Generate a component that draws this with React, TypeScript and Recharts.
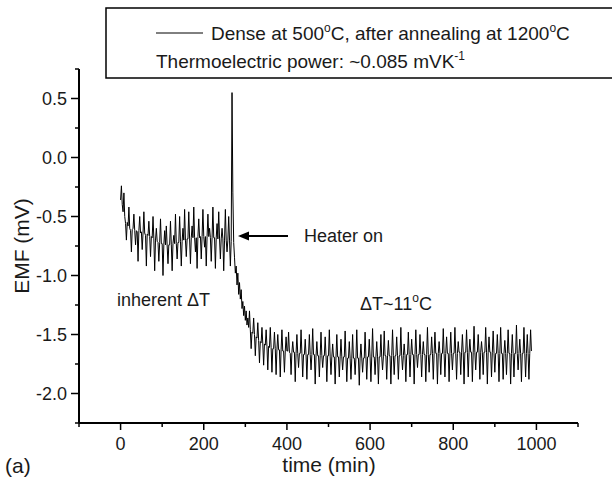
import React from "react";
import { LineChart, Line, XAxis, YAxis } from "recharts";

// sampling grid of the logger trace (minutes)
const START_MIN = 0;
const STEP_MIN = 2;

// EMF (mV), one value every 2 min
const emfBeforeHeater = [
  -0.36, -0.24, -0.4, -0.46, -0.3, -0.5, -0.56, -0.7, -0.55, -0.58,
  -0.42, -0.6, -0.62, -0.8, -0.61, -0.6, -0.48, -0.62, -0.74, -0.62,
  -0.63, -0.88, -0.62, -0.5, -0.64, -0.63, -0.78, -0.64, -0.46, -0.64,
  -0.66, -0.92, -0.65, -0.66, -0.54, -0.67, -0.84, -0.67, -0.68, -0.5,
  -0.69, -0.96, -0.7, -0.6, -0.71, -0.72, -0.88, -0.72, -0.52, -0.73,
  -0.73, -1.0, -0.74, -0.62, -0.74, -0.58, -0.75, -0.9, -0.74, -0.74,
  -0.54, -0.74, -0.96, -0.73, -0.66, -0.73, -0.48, -0.73, -0.86, -0.72,
  -0.72, -0.5, -0.71, -0.92, -0.71, -0.6, -0.7, -0.44, -0.7, -0.84,
  -0.69, -0.69, -0.46, -0.69, -0.9, -0.68, -0.58, -0.68, -0.42, -0.68,
  -0.8, -0.68, -0.94, -0.67, -0.52, -0.68, -0.67, -0.86, -0.67, -0.44,
  -0.67, -0.76, -0.67, -0.92, -0.67, -0.48, -0.67, -0.6, -0.68, -0.88,
  -0.68, -0.42, -0.68, -0.68, -0.94, -0.68, -0.56, -0.69, -0.46, -0.69,
  -0.86, -0.69, -0.6, -0.69, -0.96, -0.7, -0.44, -0.7, -0.8, -0.7,
  -0.5, -0.7, -0.92, -0.71,
];

const emfHeaterOn = [
  0.55, -0.3, -0.72, -0.85, -0.98, -0.92, -1.08, -0.98, -1.16, -1.06,
  -1.2, -1.12, -1.28, -1.22, -1.34, -1.26, -1.38, -1.3, -1.42, -1.36,
  -1.44, -1.3, -1.46, -1.62, -1.48, -1.49, -1.36, -1.5, -1.68, -1.52,
  -1.53, -1.4, -1.55, -1.74, -1.56, -1.57, -1.44, -1.58, -1.76, -1.58,
  -1.59, -1.46, -1.6, -1.8, -1.6, -1.61, -1.44, -1.61, -1.82, -1.62,
  -1.62, -1.48, -1.62, -1.84, -1.63, -1.5, -1.63, -1.63, -1.86, -1.63,
  -1.46, -1.64, -1.64, -1.82, -1.64, -1.52, -1.64,
];

const emfSteady = [
  -1.64, -1.48, -1.65, -1.66, -1.84, -1.65, -1.56, -1.65, -1.65, -1.9,
  -1.66, -1.5, -1.66, -1.78, -1.66, -1.66, -1.46, -1.66, -1.86, -1.67,
  -1.67, -1.54, -1.67, -1.88, -1.67, -1.67, -1.5, -1.67, -1.8, -1.67,
  -1.45, -1.67, -1.67, -1.92, -1.68, -1.56, -1.68, -1.68, -1.86, -1.68,
  -1.48, -1.68, -1.78, -1.68, -1.68, -1.52, -1.68, -1.9, -1.68, -1.68,
  -1.46, -1.69, -1.84, -1.69, -1.58, -1.69, -1.69, -1.92, -1.69, -1.5,
  -1.69, -1.69, -1.86, -1.69, -1.54, -1.69, -1.8, -1.69, -1.69, -1.47,
  -1.69, -1.9, -1.7, -1.7, -1.56, -1.7, -1.88, -1.7, -1.5, -1.7,
  -1.7, -1.84, -1.7, -1.46, -1.7, -1.7, -1.93, -1.7, -1.58, -1.7,
  -1.82, -1.7, -1.7, -1.48, -1.69, -1.88, -1.69, -1.69, -1.54, -1.69,
  -1.9, -1.69, -1.45, -1.69, -1.69, -1.84, -1.69, -1.56, -1.69, -1.92,
  -1.69, -1.69, -1.5, -1.69, -1.8, -1.69, -1.47, -1.68, -1.68, -1.88,
  -1.68, -1.55, -1.68, -1.68, -1.92, -1.68, -1.46, -1.68, -1.84, -1.68,
  -1.68, -1.52, -1.68, -1.88, -1.68, -1.68, -1.44, -1.68, -1.8, -1.68,
  -1.58, -1.68, -1.9, -1.67, -1.67, -1.48, -1.67, -1.86, -1.67, -1.54,
  -1.67, -1.67, -1.92, -1.67, -1.46, -1.67, -1.78, -1.67, -1.67, -1.5,
  -1.67, -1.86, -1.67, -1.56, -1.67, -1.67, -1.9, -1.67, -1.44, -1.67,
  -1.82, -1.67, -1.67, -1.52, -1.66, -1.88, -1.66, -1.48, -1.66, -1.66,
  -1.92, -1.66, -1.56, -1.66, -1.84, -1.66, -1.66, -1.45, -1.66, -1.86,
  -1.66, -1.52, -1.66, -1.66, -1.9, -1.66, -1.48, -1.66, -1.8, -1.66,
  -1.66, -1.44, -1.66, -1.88, -1.66, -1.56, -1.65, -1.65, -1.84, -1.65,
  -1.5, -1.65, -1.92, -1.65, -1.65, -1.46, -1.65, -1.86, -1.65, -1.54,
  -1.65, -1.65, -1.9, -1.65, -1.43, -1.65, -1.8, -1.65, -1.65, -1.5,
  -1.65, -1.88, -1.65, -1.56, -1.65, -1.84, -1.65, -1.65, -1.44, -1.65,
  -1.92, -1.65, -1.52, -1.65, -1.65, -1.86, -1.65, -1.47, -1.66, -1.82,
  -1.66, -1.66, -1.5, -1.66, -1.9, -1.66, -1.44, -1.66, -1.66, -1.88,
  -1.66, -1.55, -1.66, -1.84, -1.66, -1.46, -1.66, -1.66, -1.92, -1.66,
  -1.5, -1.66, -1.86, -1.66, -1.66, -1.42, -1.66, -1.8, -1.66, -1.54,
  -1.66, -1.9, -1.66, -1.66, -1.44, -1.66, -1.86, -1.66, -1.5, -1.66,
  -1.88, -1.66, -1.46, -1.64,
];

const xTicks = [-100, 0, 100, 200, 300, 400, 500, 600, 700, 800, 900, 1000, 1100];
const yTicks = [-2.25, -2, -1.75, -1.5, -1.25, -1, -0.75, -0.5, -0.25, 0, 0.25, 0.5, 0.75];

const emf = [...emfBeforeHeater, ...emfHeaterOn, ...emfSteady];
const data = emf.map((v, i) => ({ time: START_MIN + i * STEP_MIN, emf: v }));

const FONT = '"Liberation Sans", Arial, sans-serif';
const INK = "#1a1a1a";

const XTick = (props: any) => {
  const { x, y, payload } = props;
  const major = payload.value % 200 === 0;
  return (
    <g>
      <line x1={x} x2={x} y1={y} y2={y + (major ? 7 : 4)} stroke="#000" strokeWidth={1.5} />
      {major && (
        <text x={x} y={y + 27} textAnchor="middle" fontSize={18} fontFamily={FONT} fill={INK}>
          {payload.value}
        </text>
      )}
    </g>
  );
};

const YTick = (props: any) => {
  const { x, y, payload } = props;
  const major = Math.round(payload.value * 4) % 2 === 0;
  return (
    <g>
      <line x1={x - (major ? 8 : 4)} x2={x} y1={y} y2={y} stroke="#000" strokeWidth={1.5} />
      {major && (
        <text x={x - 12} y={y + 6.5} textAnchor="end" fontSize={18} fontFamily={FONT} fill={INK}>
          {payload.value.toFixed(1)}
        </text>
      )}
    </g>
  );
};

const Overlay = () => (
  <svg
    width={612}
    height={481}
    style={{ position: "absolute", left: 0, top: 0, pointerEvents: "none" }}
    fontFamily={FONT}
    fill={INK}
  >
    {/* legend box */}
    <rect x={106} y={8} width={540} height={70} fill="none" stroke="#000" strokeWidth={1.5} />
    <line x1={156} x2={203} y1={33} y2={33} stroke="#000" strokeWidth={1} />
    <text x={211} y={40} fontSize={19}>
      Dense at 500
      <tspan dy={-8} fontSize={12}>o</tspan>
      <tspan dy={8}>C, after annealing at 1200</tspan>
      <tspan dy={-8} fontSize={12}>o</tspan>
      <tspan dy={8}>C</tspan>
    </text>
    <text x={156} y={68} fontSize={19}>
      Thermoelectric power: ~0.085 mVK
      <tspan dy={-8} fontSize={12}>-1</tspan>
    </text>

    {/* annotations */}
    <line x1={246} x2={288} y1={236} y2={236} stroke="#000" strokeWidth={2} />
    <polygon points="238,236 249,231.5 249,240.5" fill="#000" />
    <text x={304} y={242} fontSize={18}>Heater on</text>
    <text x={117} y={306} fontSize={18}>inherent {"\u0394"}T</text>
    <text x={360} y={310} fontSize={18}>
      {"\u0394"}T~11
      <tspan dy={-8} fontSize={12}>o</tspan>
      <tspan dy={8}>C</tspan>
    </text>

    {/* axis titles */}
    <text x={329} y={472} fontSize={21} textAnchor="middle">time (min)</text>
    <text x={5} y={473} fontSize={21}>(a)</text>
    <text transform="translate(29,246) rotate(-90)" fontSize={21} textAnchor="middle">
      EMF (mV)
    </text>
  </svg>
);

export default function App() {
  return (
    <div style={{ position: "absolute", left: 0, top: 0, width: 612, height: 481, background: "#fff" }}>
      <LineChart width={612} height={481} data={data} margin={{ top: 69, right: 34, bottom: 28, left: 19 }}>
        <XAxis
          dataKey="time"
          type="number"
          domain={[-100, 1100]}
          ticks={xTicks}
          interval={0}
          height={30}
          tickLine={false}
          tickSize={0}
          tickMargin={0}
          axisLine={{ stroke: "#000", strokeWidth: 2 }}
          tick={<XTick />}
        />
        <YAxis
          type="number"
          domain={[-2.25, 0.75]}
          ticks={yTicks}
          interval={0}
          width={60}
          tickLine={false}
          tickSize={0}
          tickMargin={0}
          axisLine={{ stroke: "#000", strokeWidth: 2 }}
          tick={<YTick />}
        />
        <Line
          type="linear"
          dataKey="emf"
          stroke="#000"
          strokeWidth={1}
          dot={false}
          isAnimationActive={false}
        />
      </LineChart>
      <Overlay />
    </div>
  );
}
